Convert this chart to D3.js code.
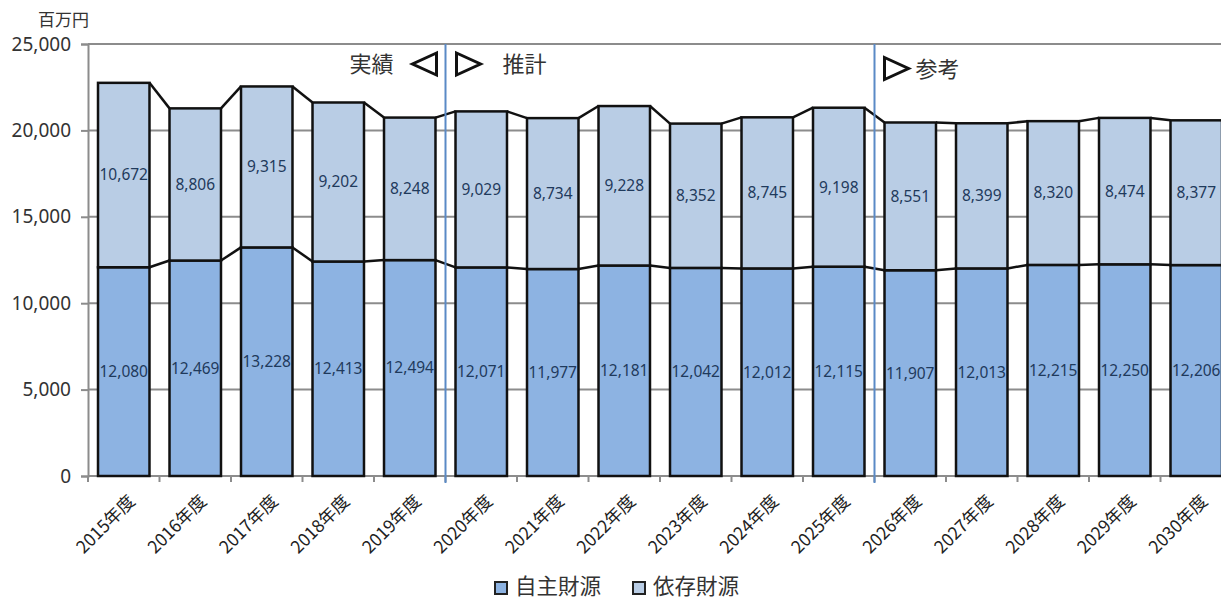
<!DOCTYPE html>
<html>
<head>
<meta charset="utf-8">
<script src="https://cdn.jsdelivr.net/npm/d3@7/dist/d3.min.js"></script>
<style>
  html, body { margin: 0; padding: 0; background: #fff; }
  svg { display: block; }
</style>
</head>
<body>
<svg id="chart" width="1221" height="600"></svg>
<script>
// Fiscal years on the category axis
const years = ["2015年度","2016年度","2017年度","2018年度","2019年度","2020年度","2021年度","2022年度",
               "2023年度","2024年度","2025年度","2026年度","2027年度","2028年度","2029年度","2030年度"];
// 自主財源 (own revenue), millions of yen
const ownRevenue = [12080,12469,13228,12413,12494,12071,11977,12181,12042,12012,12115,11907,12013,12215,12250,12206];
// 依存財源 (dependent revenue), millions of yen
const dependentRevenue = [10672,8806,9315,9202,8248,9029,8734,9228,8352,8745,9198,8551,8399,8320,8474,8377];
const yTicks = [0,5000,10000,15000,20000,25000];
const seriesNames = ["自主財源","依存財源"];
const seriesColors = ["#8db3e2","#b9cde5"];

const W = 1221, H = 600;
const plotLeft = 88, plotTop = 44, plotBottom = 476;
const step = 71.5;
const svg = d3.select("#chart");
const CJK = "'Noto Sans CJK JP', 'Noto Sans', sans-serif";
const NUM = "'Noto Sans', 'Open Sans', sans-serif";

const x = d3.scaleBand().domain(years)
  .range([plotLeft, plotLeft + step * years.length])
  .paddingInner(0.28).paddingOuter(0.14);
const y = d3.scaleLinear().domain([0, 25000]).range([plotBottom, plotTop]);

const rows = years.map((yr, i) => ({
  year: yr, own: ownRevenue[i], dep: dependentRevenue[i], total: ownRevenue[i] + dependentRevenue[i]
}));

// Gridlines (the 25,000 line doubles as the top border)
svg.append("g").selectAll("line").data(yTicks.filter(t => t > 0)).join("line")
  .attr("x1", plotLeft).attr("x2", W)
  .attr("y1", d => y(d)).attr("y2", d => y(d))
  .attr("stroke", "#8c8c8c").attr("stroke-width", 2);

// Y axis
const yAxis = svg.append("g").attr("transform", `translate(${plotLeft},0)`)
  .call(d3.axisLeft(y).tickValues(yTicks).tickSize(7).tickPadding(10)
    .tickFormat(d3.format(",")));
yAxis.select(".domain").attr("stroke", "#8c8c8c").attr("stroke-width", 2);
yAxis.selectAll(".tick line").attr("stroke", "#8c8c8c").attr("stroke-width", 2);
yAxis.selectAll(".tick text").attr("font-family", NUM).attr("font-size", 19).attr("fill", "#333");

// X axis baseline with tick marks between categories
svg.append("line").attr("x1", plotLeft).attr("x2", W).attr("y1", plotBottom).attr("y2", plotBottom)
  .attr("stroke", "#8c8c8c").attr("stroke-width", 2);
svg.append("g").selectAll("line").data(d3.range(years.length + 1)).join("line")
  .attr("x1", i => plotLeft + i * x.step()).attr("x2", i => plotLeft + i * x.step())
  .attr("y1", plotBottom).attr("y2", plotBottom + 6)
  .attr("stroke", "#8c8c8c").attr("stroke-width", 2);

// Stacked bars
const stack = svg.append("g");
stack.selectAll("rect.own").data(rows).join("rect").attr("class", "own")
  .attr("x", d => x(d.year)).attr("width", x.bandwidth())
  .attr("y", d => y(d.own)).attr("height", d => y(0) - y(d.own))
  .attr("fill", seriesColors[0]).attr("stroke", "#111").attr("stroke-width", 2.5);
stack.selectAll("rect.dep").data(rows).join("rect").attr("class", "dep")
  .attr("x", d => x(d.year)).attr("width", x.bandwidth())
  .attr("y", d => y(d.total)).attr("height", d => y(d.own) - y(d.total))
  .attr("fill", seriesColors[1]).attr("stroke", "#111").attr("stroke-width", 2.5);

// Series lines joining neighbouring bars at each stack level
const links = [];
for (let i = 0; i < rows.length - 1; i++) {
  links.push({ a: rows[i], b: rows[i + 1], key: "own" });
  links.push({ a: rows[i], b: rows[i + 1], key: "total" });
}
stack.selectAll("line.series").data(links).join("line").attr("class", "series")
  .attr("x1", d => x(d.a.year) + x.bandwidth()).attr("y1", d => y(d.a[d.key]))
  .attr("x2", d => x(d.b.year)).attr("y2", d => y(d.b[d.key]))
  .attr("stroke", "#111").attr("stroke-width", 2.5);

// Value labels centred in each segment
const fmt = d3.format(",");
const labels = svg.append("g").attr("font-family", NUM).attr("font-size", 15.5)
  .attr("fill", "#1f3a5c").attr("text-anchor", "middle");
labels.selectAll("text.own").data(rows).join("text").attr("class", "own")
  .attr("x", d => x(d.year) + x.bandwidth() / 2).attr("y", d => y(d.own / 2))
  .attr("dy", "0.35em").text(d => fmt(d.own));
labels.selectAll("text.dep").data(rows).join("text").attr("class", "dep")
  .attr("x", d => x(d.year) + x.bandwidth() / 2).attr("y", d => y(d.own + d.dep / 2))
  .attr("dy", "0.35em").text(d => fmt(d.dep));

// Category labels, rotated
svg.append("g").selectAll("text").data(years).join("text")
  .attr("transform", d => `translate(${x(d) + x.bandwidth() / 2 + 8},${plotBottom + 22}) rotate(-45)`)
  .attr("text-anchor", "end").attr("dy", "0.35em")
  .attr("font-family", CJK).attr("font-size", 17.5).attr("fill", "#222")
  .text(d => d);

// Period dividers: actual / projection / reference
const div1 = plotLeft + 5 * x.step();
const div2 = plotLeft + 11 * x.step();
svg.append("g").selectAll("line").data([div1, div2]).join("line")
  .attr("x1", d => d).attr("x2", d => d).attr("y1", plotTop).attr("y2", plotBottom + 7)
  .attr("stroke", "#5a8ac6").attr("stroke-width", 2);

const tri = (x0, yc, dir) => {
  const h = 11, w = 24;
  return dir > 0
    ? `M${x0},${yc - h}L${x0 + w},${yc}L${x0},${yc + h}Z`
    : `M${x0},${yc - h}L${x0 - w},${yc}L${x0},${yc + h}Z`;
};
const ann = svg.append("g");
ann.append("path").attr("d", tri(div1 - 9, 64, -1));
ann.append("path").attr("d", tri(div1 + 11, 64, 1));
ann.append("path").attr("d", tri(div2 + 10, 68.5, 1));
ann.selectAll("path").attr("fill", "none").attr("stroke", "#111").attr("stroke-width", 3)
  .attr("stroke-linejoin", "miter");
const annText = ann.append("g").attr("font-family", CJK).attr("font-size", 22).attr("fill", "#333");
annText.append("text").attr("x", div1 - 52).attr("y", 72).attr("text-anchor", "end").text("実績");
annText.append("text").attr("x", div1 + 57).attr("y", 72).text("推計");
annText.append("text").attr("x", div2 + 41).attr("y", 77).text("参考");

// Unit label
svg.append("text").attr("x", 38).attr("y", 26).attr("font-family", CJK).attr("font-size", 17)
  .attr("fill", "#333").text("百万円");

// Legend
const legend = svg.append("g").attr("font-family", CJK).attr("font-size", 21.5).attr("fill", "#333");
const legendX = [495, 633];
seriesNames.forEach((name, i) => {
  legend.append("rect").attr("x", legendX[i]).attr("y", 582).attr("width", 12).attr("height", 12)
    .attr("fill", seriesColors[i]).attr("stroke", "#222").attr("stroke-width", 2);
  legend.append("text").attr("x", legendX[i] + 20).attr("y", 594).text(name);
});
</script>
</body>
</html>
